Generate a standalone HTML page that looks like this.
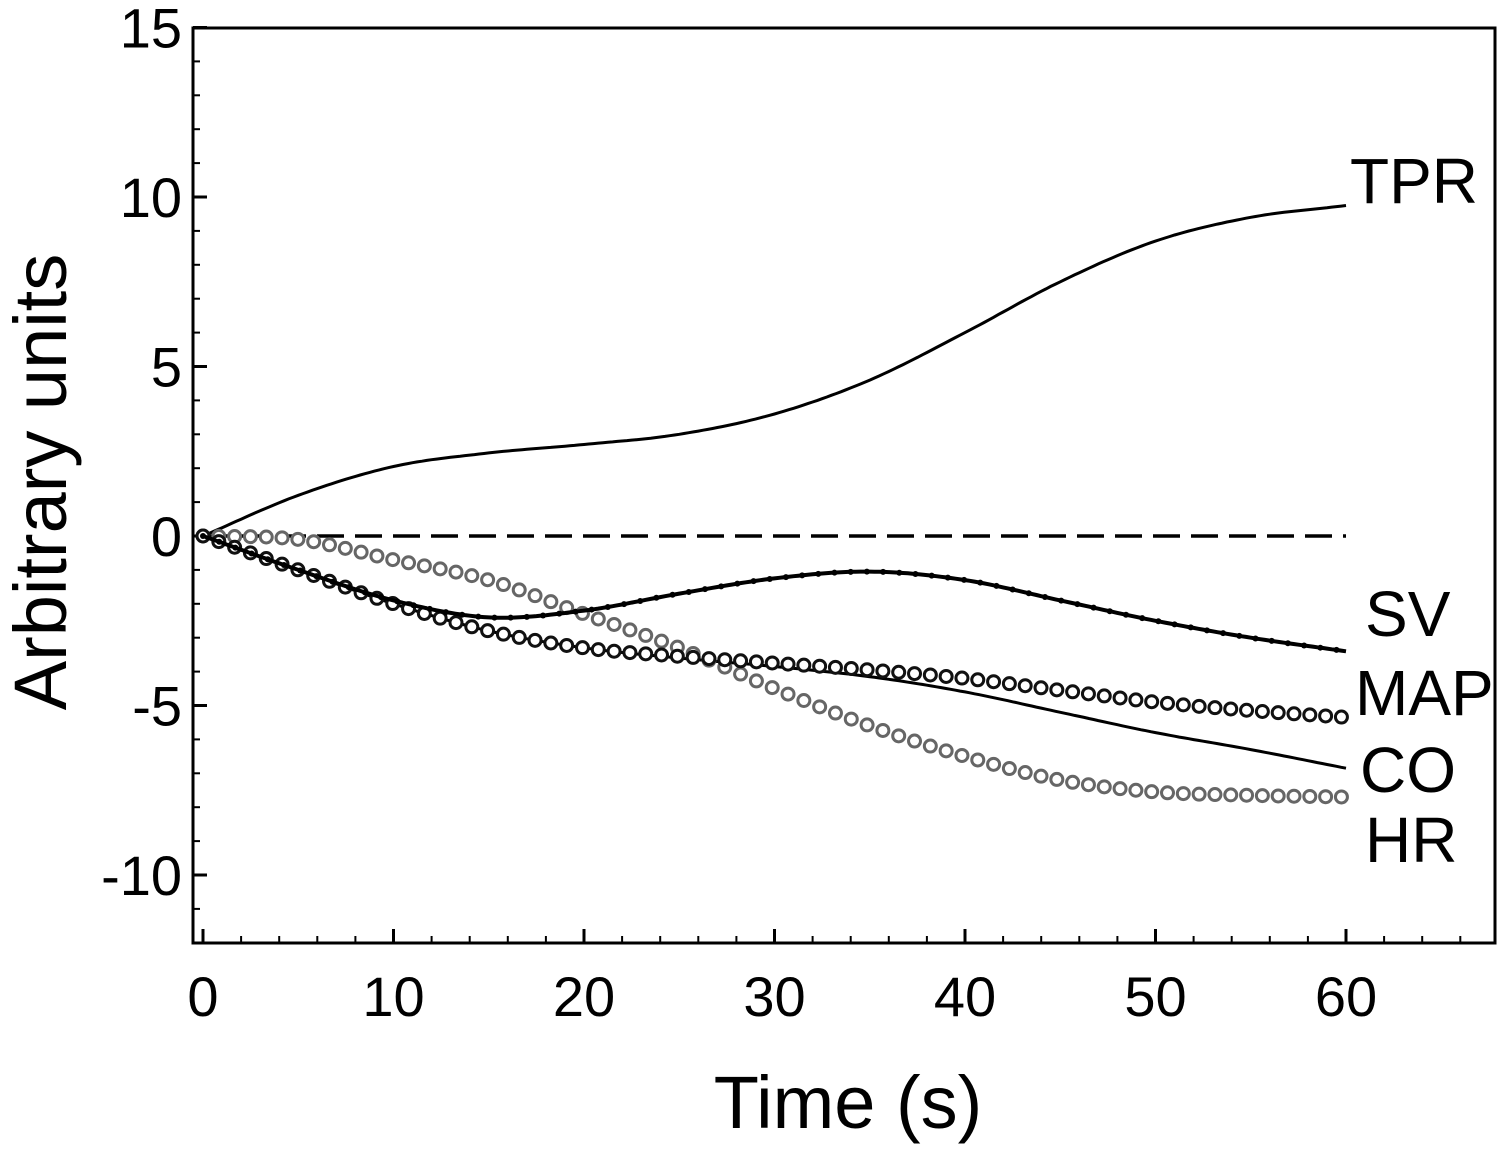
<!DOCTYPE html>
<html><head><meta charset="utf-8"><style>
html,body{margin:0;padding:0;background:#fff}
svg{display:block}
text{font-family:"Liberation Sans",Arial,sans-serif;fill:#000}
</style></head><body>
<svg id="chart" width="1508" height="1153" viewBox="0 0 1508 1153" xmlns="http://www.w3.org/2000/svg">
<g id="axes"></g>
<g id="series"></g>
<g id="labels"></g>
</svg>
<script>
const times=[0,5,10,15,20,25,30,35,40,45,50,55,60];
const tpr=[0,1.2,2.05,2.45,2.7,3.0,3.6,4.6,6.0,7.5,8.7,9.4,9.75];
const sv=[0,-1.0,-1.9,-2.4,-2.2,-1.7,-1.25,-1.05,-1.3,-1.9,-2.5,-3.0,-3.4];
const map=[0,-1.0,-2.0,-2.8,-3.3,-3.55,-3.75,-3.95,-4.2,-4.55,-4.9,-5.15,-5.35];
const co=[0,-1.0,-2.0,-2.8,-3.3,-3.6,-3.85,-4.15,-4.6,-5.2,-5.8,-6.3,-6.85];
const hr=[0,-0.1,-0.7,-1.3,-2.3,-3.3,-4.5,-5.6,-6.5,-7.2,-7.55,-7.65,-7.7];
const xTicks=[0,10,20,30,40,50,60];
const yTicks=[15,10,5,0,-5,-10];
const NS="http://www.w3.org/2000/svg";
const X0=203,XS=19.05,Y0=536,YS=33.9;
const sx=t=>X0+t*XS, sy=v=>Y0-v*YS;
function mk(tag,attrs,parent){const e=document.createElementNS(NS,tag);for(const k in attrs)e.setAttribute(k,attrs[k]);parent.appendChild(e);return e;}
const axes=document.getElementById('axes'),ser=document.getElementById('series'),lab=document.getElementById('labels');
let r=mk('rect',{x:193,y:28,width:1302,height:915,fill:'none',stroke:'#000','stroke-width':3},axes);


for(let t=0;t<=66;t+=2){const major=t%10===0;const l=mk('line',{x1:sx(t),x2:sx(t),y1:943,y2:943-(major?14:7),stroke:'#000','stroke-width':major?3:2},axes);

}
for(let v=-11;v<=15;v++){const major=v%5===0;const l=mk('line',{x1:193,x2:193+(major?14:7),y1:sy(v),y2:sy(v),stroke:'#000','stroke-width':major?3:2},axes);

}
xTicks.forEach(t=>{const e=mk('text',{x:sx(t),y:1016,'font-size':56,'text-anchor':'middle'},lab);e.textContent=t;

});
yTicks.forEach(v=>{const e=mk('text',{x:182,y:sy(v)+20,'font-size':56,'text-anchor':'end'},lab);e.textContent=v;

});
let e=mk('text',{x:848,y:1128,'font-size':74,'text-anchor':'middle'},lab);e.textContent='Time (s)';


e=mk('text',{x:0,y:0,'font-size':74,'text-anchor':'middle',transform:'translate(66,482) rotate(-90)'},lab);e.textContent='Arbitrary units';


function val(arr,t){const h=5;let i=Math.min(Math.floor(t/h),arr.length-2);const u=(t-i*h)/h;
const p0=i>0?arr[i-1]:2*arr[0]-arr[1],p1=arr[i],p2=arr[i+1],p3=i+2<arr.length?arr[i+2]:2*arr[i+1]-arr[i];
return 0.5*((2*p1)+(-p0+p2)*u+(2*p0-5*p1+4*p2-p3)*u*u+(-p0+3*p1-3*p2+p3)*u*u*u);}
function pathOf(arr){let d='';for(let t=0;t<=60.001;t+=0.25){d+=(d?'L':'M')+sx(t).toFixed(1)+','+sy(val(arr,t)).toFixed(1);}return d;}
let z=mk('line',{x1:sx(0),x2:sx(60),y1:sy(0),y2:sy(0),stroke:'#000','stroke-width':3.5,'stroke-dasharray':'27 11'},ser);


function line(arr,name,w){const p=mk('path',{d:pathOf(arr),fill:'none',stroke:'#000','stroke-width':w},ser);

}
function circles(arr,name,col){const g=mk('g',{},ser);


for(let t=0;t<=60.001;t+=0.83){const c=mk('circle',{cx:sx(t),cy:sy(val(arr,t)),r:6,fill:'#fff',stroke:col,'stroke-width':3},g);

}}
line(tpr,'tpr-line',3);
line(co,'co-line',3);
circles(hr,'hr-series','#666');
circles(map,'map-series','#111');
line(sv,'sv-line',4);
const g=mk('g',{},ser);


for(let t=0;t<=60.001;t+=0.85){const c=mk('circle',{cx:sx(t),cy:sy(val(sv,t)),r:3,fill:'#000'},g);

}
[['TPR',1350,203],['SV',1365,636],['MAP',1355,715],['CO',1360,792],['HR',1365,862]].forEach(([s,x,y])=>{const t=mk('text',{x:x,y:y,'font-size':64},lab);t.textContent=s;

});
</script>
</body></html>
